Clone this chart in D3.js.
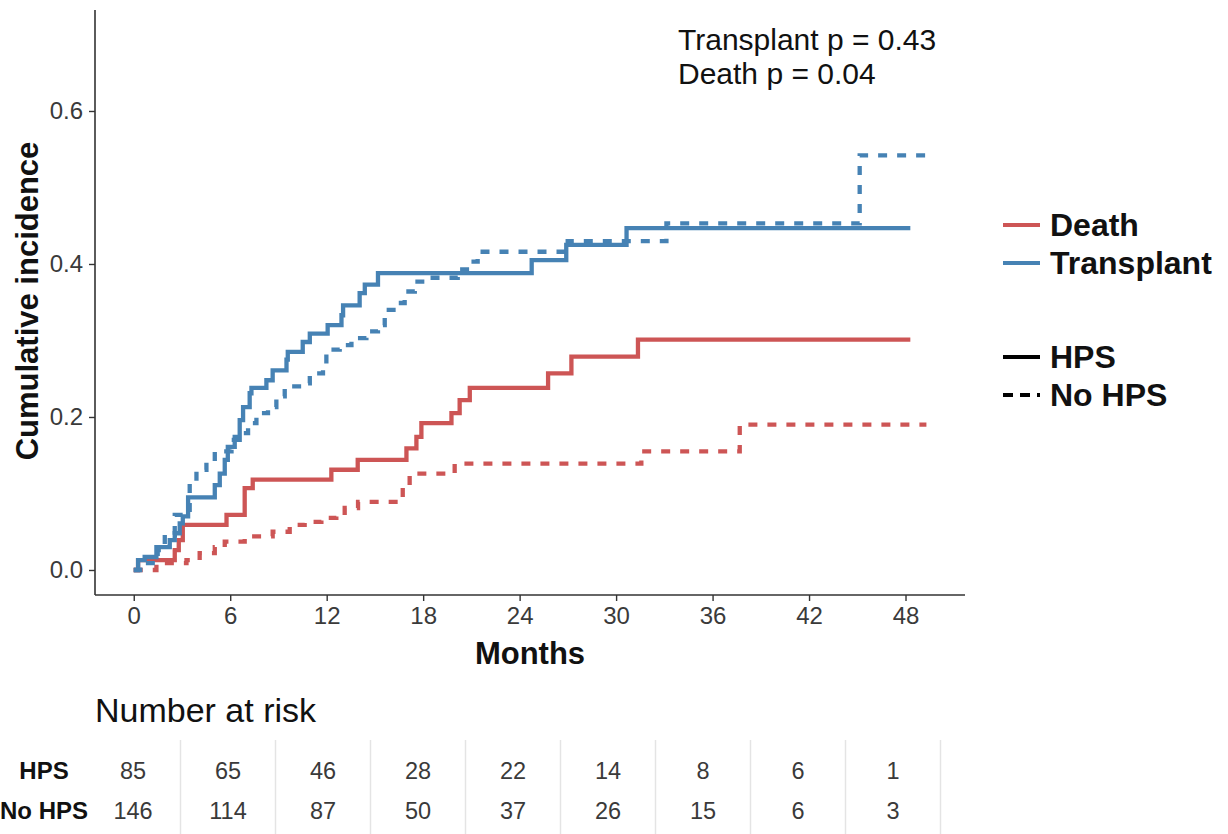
<!DOCTYPE html>
<html>
<head>
<meta charset="utf-8">
<script src="https://cdn.jsdelivr.net/npm/d3@7"></script>
<style>
  html, body { margin: 0; padding: 0; background: #fff; }
  svg { display: block; font-family: "Liberation Sans", Arial, sans-serif; }
</style>
</head>
<body>
<svg id="chart" width="1228" height="834"></svg>
<script>
// Cumulative incidence step curves: months at each step and the value after it
const tTransHPS = [0, 0.27, 0.68, 1.41, 2.24, 2.55, 2.86, 3.05, 3.38, 5.04, 5.35, 5.66, 5.85, 6.28, 6.59, 6.8, 7.21, 7.32, 8.25, 8.64, 9.5, 9.58, 10.51, 10.95, 12.06, 12.92, 13.02, 14.05, 14.37, 15.19, 24.75, 26.9, 30.65, 48.3];
const cTransHPS = [0, 0.013, 0.017, 0.030, 0.039, 0.048, 0.061, 0.070, 0.095, 0.111, 0.126, 0.144, 0.161, 0.174, 0.196, 0.213, 0.231, 0.238, 0.248, 0.261, 0.275, 0.285, 0.298, 0.309, 0.320, 0.333, 0.346, 0.362, 0.373, 0.388, 0.405, 0.425, 0.447, 0.447];

const tTransNo = [0, 0.4, 1.49, 1.93, 2.55, 3.48, 3.9, 4.52, 5.04, 6.08, 6.59, 7.11, 7.63, 8.35, 8.87, 9.39, 10.53, 10.95, 11.77, 11.98, 12.81, 13.54, 14.47, 15.19, 15.61, 16.34, 16.85, 17.48, 18.1, 20.15, 20.9, 21.39, 26.99, 33.13, 45.15, 49.3];
const cTransNo = [0, 0.009, 0.026, 0.046, 0.072, 0.114, 0.131, 0.142, 0.155, 0.170, 0.179, 0.192, 0.205, 0.213, 0.227, 0.240, 0.244, 0.257, 0.266, 0.288, 0.294, 0.303, 0.312, 0.320, 0.340, 0.349, 0.364, 0.377, 0.382, 0.393, 0.403, 0.416, 0.430, 0.453, 0.542, 0.542];

const tDeathHPS = [0, 0.27, 2.55, 2.8, 3.05, 5.77, 6.9, 7.4, 12.29, 13.93, 16.96, 17.58, 17.89, 19.76, 20.27, 20.9, 25.77, 27.22, 31.36, 48.3];
const cDeathHPS = [0, 0.013, 0.026, 0.039, 0.059, 0.072, 0.107, 0.118, 0.131, 0.144, 0.159, 0.174, 0.192, 0.205, 0.222, 0.238, 0.257, 0.279, 0.301, 0.301];

const tDeathNo = [0, 1.41, 3.28, 4.10, 5.04, 5.66, 6.90, 8.64, 9.70, 10.63, 11.67, 12.6, 13.12, 13.95, 16.73, 17.16, 19.96, 31.57, 37.69, 49.3];
const cDeathNo = [0, 0.009, 0.013, 0.022, 0.030, 0.037, 0.044, 0.050, 0.059, 0.063, 0.068, 0.070, 0.081, 0.089, 0.109, 0.126, 0.139, 0.155, 0.190, 0.190];

// Axis ticks
const xTicks = [0, 6, 12, 18, 24, 30, 36, 42, 48];
const yTicks = [0, 0.2, 0.4, 0.6];

// Number at risk table
const riskMonths = [0, 6, 12, 18, 24, 30, 36, 42, 48];
const riskGroups = ["HPS", "No HPS"];
const riskHPS = [85, 65, 46, 28, 22, 14, 8, 6, 1];
const riskNoHPS = [146, 114, 87, 50, 37, 26, 15, 6, 3];

const pValues = ["Transplant p = 0.43", "Death p = 0.04"];
const eventNames = ["Death", "Transplant"];

const colDeath = "#CD5555";
const colTrans = "#4682B4";
const dashPattern = "9,10";

const svg = d3.select("#chart");

const panelLeft = 95, panelRight = 965, panelTop = 10, panelBottom = 595;
const x = d3.scaleLinear().domain([-2.41, 51.7]).range([panelLeft, panelRight]);
const y = d3.scaleLinear().domain([-0.0327, 0.732]).range([panelBottom, panelTop]);

// Curves
const series = [
  { t: tDeathNo,  c: cDeathNo,  color: colDeath, dashed: true },
  { t: tDeathHPS, c: cDeathHPS, color: colDeath, dashed: false },
  { t: tTransNo,  c: cTransNo,  color: colTrans, dashed: true },
  { t: tTransHPS, c: cTransHPS, color: colTrans, dashed: false }
];

const line = d3.line()
  .x(d => x(d[0]))
  .y(d => y(d[1]))
  .curve(d3.curveStepAfter);

svg.append("g").selectAll("path")
  .data(series)
  .join("path")
  .attr("d", s => line(s.t.map((t, i) => [t, s.c[i]])))
  .attr("fill", "none")
  .attr("stroke", s => s.color)
  .attr("stroke-width", 4.3)
  .attr("stroke-dasharray", s => s.dashed ? dashPattern : null);

// Axes
const xAxis = svg.append("g")
  .attr("transform", `translate(0,${panelBottom})`)
  .call(d3.axisBottom(x).tickValues(xTicks).tickSize(6).tickPadding(6).tickFormat(d3.format("d")));
const yAxis = svg.append("g")
  .attr("transform", `translate(${panelLeft},0)`)
  .call(d3.axisLeft(y).tickValues(yTicks).tickSize(6).tickPadding(6).tickFormat(d3.format(".1f")));

[xAxis, yAxis].forEach(a => {
  a.select(".domain").attr("stroke", "#333").attr("stroke-width", 1.6);
  a.selectAll(".tick line").attr("stroke", "#333").attr("stroke-width", 1.4);
  a.selectAll(".tick text").attr("fill", "#3a3a3a").attr("font-size", 24)
    .attr("font-family", "'Liberation Sans', Arial, sans-serif");
});
xAxis.select(".domain").attr("d", `M${panelLeft},0H${panelRight}`);
yAxis.select(".domain").attr("d", `M0,${panelTop}V${panelBottom}`);

// Axis titles
svg.append("text")
  .attr("x", (panelLeft + panelRight) / 2).attr("y", 664)
  .attr("text-anchor", "middle")
  .attr("font-size", 31).attr("font-weight", "bold").attr("fill", "#111")
  .text("Months");

svg.append("text")
  .attr("transform", "translate(38,301) rotate(-90)")
  .attr("text-anchor", "middle")
  .attr("font-size", 31).attr("font-weight", "bold").attr("fill", "#111")
  .text("Cumulative incidence");

// p-value annotation
svg.append("g").selectAll("text")
  .data(pValues)
  .join("text")
  .attr("x", 678).attr("y", (d, i) => 50 + i * 34)
  .attr("font-size", 30).attr("fill", "#111")
  .text(d => d);

// Legends
const legX1 = 1003, legX2 = 1040, legTX = 1050;
const legColour = svg.append("g");
eventNames.forEach((name, i) => {
  const ly = 225 + i * 38;
  legColour.append("line")
    .attr("x1", legX1).attr("x2", legX2).attr("y1", ly).attr("y2", ly)
    .attr("stroke", name === "Death" ? colDeath : colTrans).attr("stroke-width", 4);
  legColour.append("text")
    .attr("x", legTX).attr("y", ly + 11)
    .attr("font-size", 32).attr("font-weight", "bold").attr("fill", "#111")
    .text(name);
});
const legType = svg.append("g");
riskGroups.forEach((name, i) => {
  const ly = 357 + i * 38;
  legType.append("line")
    .attr("x1", legX1).attr("x2", legX2).attr("y1", ly).attr("y2", ly)
    .attr("stroke", "#000").attr("stroke-width", 4)
    .attr("stroke-dasharray", i === 1 ? "10,7" : null);
  legType.append("text")
    .attr("x", legTX).attr("y", ly + 11)
    .attr("font-size", 32).attr("font-weight", "bold").attr("fill", "#111")
    .text(name);
});

// Number at risk table
const xr = d3.scaleLinear().domain([0, 48]).range([133, 893]);
svg.append("text")
  .attr("x", 95).attr("y", 722)
  .attr("font-size", 34).attr("fill", "#111")
  .text("Number at risk");

const step = xr(6) - xr(0);
svg.append("g").selectAll("line")
  .data(riskMonths)
  .join("line")
  .attr("x1", d => xr(d) + step / 2).attr("x2", d => xr(d) + step / 2)
  .attr("y1", 740).attr("y2", 834)
  .attr("stroke", "#e4e4e4").attr("stroke-width", 1.5);

const riskRows = [riskHPS, riskNoHPS];
riskRows.forEach((row, r) => {
  const ry = 779 + r * 40;
  svg.append("text")
    .attr("x", 44).attr("y", ry)
    .attr("text-anchor", "middle")
    .attr("font-size", 24).attr("font-weight", "bold").attr("fill", "#111")
    .text(riskGroups[r]);
  svg.append("g").selectAll("text")
    .data(row)
    .join("text")
    .attr("x", (d, i) => xr(riskMonths[i])).attr("y", ry)
    .attr("text-anchor", "middle")
    .attr("font-size", 23.5).attr("fill", "#3a3a3a")
    .text(d => d);
});
</script>
</body>
</html>
